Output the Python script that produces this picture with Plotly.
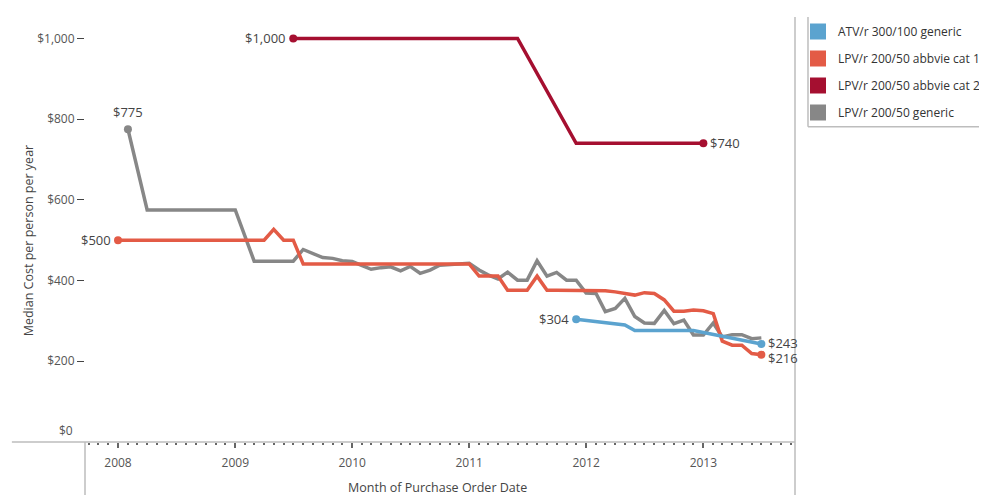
import plotly.graph_objects as go

# monthly medians
atv_months = ["2011-12", "2012-05", "2012-06", "2012-12", "2013-07"]
atv_values = [304, 290, 276, 276, 243]

cat2_months = ["2009-07", "2011-06", "2011-12", "2013-01"]
cat2_values = [1000, 1000, 740, 740]

cat1_months = [
    "2008-01", "2008-02", "2008-03", "2008-04", "2008-05", "2008-06", "2008-07", "2008-08",
    "2008-09", "2008-10", "2008-11", "2008-12", "2009-01", "2009-02", "2009-03", "2009-04",
    "2009-05", "2009-06", "2009-07", "2009-08", "2009-09", "2009-10", "2009-11", "2009-12",
    "2010-01", "2010-02", "2010-03", "2010-04", "2010-05", "2010-06", "2010-07", "2010-08",
    "2010-09", "2010-10", "2010-11", "2010-12", "2011-01", "2011-02", "2011-03", "2011-04",
    "2011-05", "2011-06", "2011-07", "2011-08", "2011-09", "2011-10", "2011-11", "2011-12",
    "2012-01", "2012-02", "2012-03", "2012-04", "2012-05", "2012-06", "2012-07", "2012-08",
    "2012-09", "2012-10", "2012-11", "2012-12", "2013-01", "2013-02", "2013-03", "2013-04",
    "2013-05", "2013-06", "2013-07",
]
cat1_values = [
    500, 500, 500, 500, 500, 500, 500, 500,
    500, 500, 500, 500, 500, 500, 500, 500,
    527, 500, 500, 441, 441, 441, 441, 441,
    441, 441, 441, 441, 441, 441, 441, 441,
    441, 441, 441, 441, 441, 411, 411, 411,
    376, 376, 376, 411, 376, 376, 376, 376,
    376, 376, 375, 372, 368, 364, 370, 368,
    352, 324, 324, 327, 325, 318, 250, 240,
    240, 219, 216,
]

generic_months = ["2008-02"] + cat1_months[3:12 + 1] + cat1_months[14:]
generic_values = [
    775,
    575, 575, 575, 575, 575, 575, 575, 575, 575, 575,
    448, 448, 448, 448, 448, 477, 467, 457, 455, 449,
    447, 437, 428, 432, 434, 424, 435, 418, 426, 438,
    440, 441, 443, 426, 414, 404, 421, 401, 401, 449,
    411, 420, 401, 401, 369, 368, 323, 331, 356, 311,
    295, 294, 326, 293, 302, 265, 265, 295, 260, 266,
    266, 256, 258,
]

y_ticks = [200, 400, 600, 800, 1000]

BLUE = "#5BA3CF"
RED = "#E35B46"
DARK_RED = "#A50F30"
GRAY = "#878787"
TXT = "#555555"
FONT = "Open Sans"


def d(m):
    return m + "-01"


# label placement: (xanchor, yanchor, xshift, yshift) or None
LEFT = ("right", "middle", -5, 0)
RIGHT = ("left", "middle", 5, 0)
series = [
    ("ATV/r 300/100 generic", atv_months, atv_values, BLUE, LEFT, ("left", "middle", 5, 1)),
    ("LPV/r 200/50 abbvie cat 1", cat1_months, cat1_values, RED, LEFT, ("left", "middle", 5, -3)),
    ("LPV/r 200/50 abbvie cat 2", cat2_months, cat2_values, DARK_RED, LEFT, RIGHT),
    ("LPV/r 200/50 generic", generic_months, generic_values, GRAY, ("center", "bottom", 0, 6), None),
]

fig = go.Figure()
# lines drawn back to front like the original (generic underneath)
for name, months, vals, col, _, _ in reversed(series):
    fig.add_trace(go.Scatter(
        x=[d(m) for m in months], y=vals, mode="lines", name=name,
        line=dict(color=col, width=3.5), showlegend=False, hoverinfo="skip",
    ))

annotations = []
for name, months, vals, col, lab0, lab1 in series:
    ends = [(months[0], vals[0], lab0)]
    if lab1:
        ends.append((months[-1], vals[-1], lab1))
    fig.add_trace(go.Scatter(
        x=[d(m) for m, _, _ in ends], y=[v for _, v, _ in ends], mode="markers",
        marker=dict(color=col, size=8), showlegend=False, cliponaxis=False,
    ))
    for m, v, (xa, ya, xs, ys) in ends:
        annotations.append(dict(
            x=d(m), y=v, xref="x", yref="y", text=f"${v:,.0f}", showarrow=False,
            xanchor=xa, yanchor=ya, xshift=xs, yshift=ys,
            font=dict(family=FONT, size=13, color="#444"),
        ))

# legend swatches
for name, _, _, col, _, _ in series:
    fig.add_trace(go.Scatter(
        x=[None], y=[None], mode="markers", name=name, legendgroup=name,
        marker=dict(color=col, size=16, symbol="square"),
    ))

line_c = "#BDBDBD"
annotations += [
    dict(text="$0", xref="paper", yref="y", x=-0.0141, y=0, xanchor="right",
         yanchor="bottom", yshift=1, showarrow=False,
         font=dict(family=FONT, size=12, color=TXT)),
    dict(text="Median Cost per person per year", xref="paper", yref="paper",
         x=-0.080, y=0.475, textangle=-90, showarrow=False,
         xanchor="center", yanchor="middle",
         font=dict(family=FONT, size=12.5, color="#444")),
    dict(text="Month of Purchase Order Date", xref="paper", yref="paper",
         x=0.496, y=-0.107, showarrow=False, xanchor="center", yanchor="middle",
         font=dict(family=FONT, size=12.5, color="#444")),
]

# page body keeps an 8px margin, so the figure is sized to the remaining window
fig.update_layout(
    width=979, height=487,
    margin=dict(l=77, r=192, t=9, b=53, autoexpand=False),
    paper_bgcolor="white", plot_bgcolor="white",
    font=dict(family=FONT, size=12, color=TXT),
    showlegend=True,
    legend=dict(
        x=1.0042, y=1.0, xanchor="left", yanchor="top",
        font=dict(family=FONT, size=12, color="#333"),
        tracegroupgap=8, bgcolor="rgba(0,0,0,0)",
    ),
    xaxis=dict(
        type="date", range=["2007-09-20", "2013-10-14"], automargin=False,
        showgrid=False, zeroline=False, showline=False,
        tick0="2008-01-01", dtick="M12", tickformat="%Y",
        ticks="outside", ticklen=5, tickwidth=2, tickcolor="#666",
        ticklabelstandoff=5,
        tickfont=dict(family=FONT, size=12, color=TXT),
        minor=dict(dtick="M1", tick0="2008-01-01", ticks="outside",
                   ticklen=2, tickwidth=2, tickcolor="#666"),
    ),
    yaxis=dict(
        range=[0, 1053], automargin=False,
        showgrid=False, zeroline=False, showline=False,
        tickvals=y_ticks, ticktext=[f"${v:,.0f}" for v in y_ticks],
        ticks="outside", ticklen=7, tickcolor="#444", tickwidth=1,
        tickfont=dict(family=FONT, size=12, color=TXT),
    ),
    shapes=[
        # x axis baseline running under the header column
        dict(type="line", xref="paper", yref="paper", x0=-0.103, x1=1, y0=0, y1=0,
             line=dict(color=line_c, width=1.5)),
        # header divider and right pane border
        dict(type="line", xref="paper", yref="paper", x0=0, x1=0, y0=-0.13, y1=0,
             line=dict(color=line_c, width=1.5)),
        dict(type="line", xref="paper", yref="paper", x0=1, x1=1, y0=-0.13, y1=1,
             line=dict(color=line_c, width=1.5)),
        # legend box (open top)
        dict(type="line", xref="paper", yref="paper", x0=1.0183, x1=1.0183, y0=0.7417, y1=1,
             line=dict(color=line_c, width=1.5)),
        dict(type="line", xref="paper", yref="paper", x0=1.0183, x1=1.28, y0=0.7417, y1=0.7417,
             line=dict(color=line_c, width=1.5)),
    ],
    annotations=annotations,
)

fig.write_html("out.html")
